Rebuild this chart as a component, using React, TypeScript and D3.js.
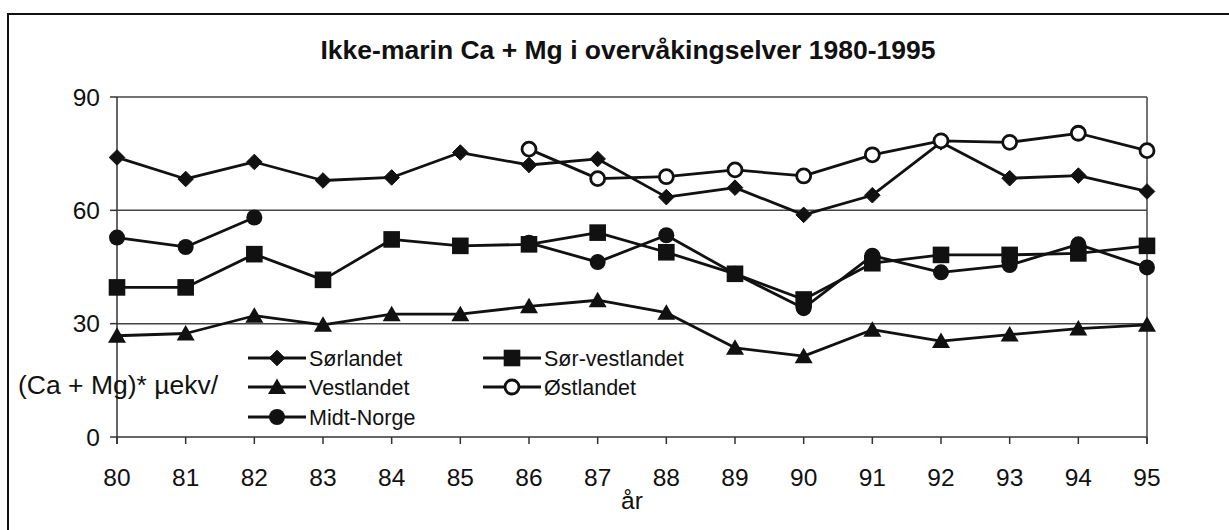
import React from "react";
import * as d3 from "d3";

const years = [80, 81, 82, 83, 84, 85, 86, 87, 88, 89, 90, 91, 92, 93, 94, 95];
const yTicks = [0, 30, 60, 90];

const sorlandet = [74, 68.3, 72.8, 67.9, 68.7, 75.3, 72, 73.6, 63.5, 66, 58.8, 64, 78, 68.5, 69.2, 65];
const sorVestlandet = [39.6, 39.6, 48.4, 41.6, 52.3, 50.6, 51, 54.1, 48.9, 43.2, 36.4, 46, 48.2, 48.2, 48.6, 50.6];
const vestlandet = [26.8, 27.4, 32.1, 29.7, 32.5, 32.5, 34.6, 36.2, 32.9, 23.6, 21.4, 28.4, 25.4, 27.1, 28.7, 29.7];
const ostlandet: (number | null)[] = [null, null, null, null, null, null, 76.2, 68.4, 68.9, 70.7, 69.1, 74.7, 78.4, 78, 80.4, 75.8];
const midtNorge: (number | null)[] = [52.8, 50.3, 58.1, null, null, null, 51.4, 46.3, 53.4, 43.2, 34.1, 48, 43.6, 45.5, 51, 44.9];

const seriesNames = ["Sørlandet", "Sør-vestlandet", "Vestlandet", "Østlandet", "Midt-Norge"];
const seriesMarkers = ["diamond", "square", "triangle", "openCircle", "circle"];
const seriesValues = [sorlandet, sorVestlandet, vestlandet, ostlandet, midtNorge];

const FONT = "'Liberation Sans', Arial, Helvetica, sans-serif";

function Marker({ kind, x, y }: { kind: string; x: number; y: number }) {
  if (kind === "diamond") {
    const r = 7.8;
    return <path d={`M${x},${y - r}L${x + r},${y}L${x},${y + r}L${x - r},${y}Z`} fill="#111" stroke="#111" strokeWidth={1} />;
  }
  if (kind === "square") {
    const s = 8.3;
    return <rect x={x - s} y={y - s} width={2 * s} height={2 * s} fill="#111" />;
  }
  if (kind === "triangle") {
    const w = 9;
    return <path d={`M${x},${y - 8.5}L${x + w},${y + 7}L${x - w},${y + 7}Z`} fill="#111" />;
  }
  if (kind === "openCircle") {
    return <circle cx={x} cy={y} r={7} fill="#fff" stroke="#111" strokeWidth={2.8} />;
  }
  return <circle cx={x} cy={y} r={8} fill="#111" />;
}

export default function App() {
  const W = 1229, H = 530;
  const x = d3.scaleLinear().domain([80, 95]).range([117, 1147]);
  const y = d3.scaleLinear().domain([0, 90]).range([437, 97]);

  const line = d3
    .line<number | null>()
    .defined((d) => d != null)
    .x((_, i) => x(years[i]))
    .y((d) => y(d as number));

  const legendItems = [
    { name: seriesNames[0], marker: seriesMarkers[0], lx: 248, ly: 358 },
    { name: seriesNames[1], marker: seriesMarkers[1], lx: 483, ly: 358 },
    { name: seriesNames[2], marker: seriesMarkers[2], lx: 248, ly: 387 },
    { name: seriesNames[3], marker: seriesMarkers[3], lx: 483, ly: 387 },
    { name: seriesNames[4], marker: seriesMarkers[4], lx: 248, ly: 417 },
  ];

  return (
    <svg width={W} height={H} style={{ position: "absolute", left: 0, top: 0, background: "#fff" }} fontFamily={FONT}>
      <rect x={0} y={0} width={W} height={H} fill="#fff" />
      {/* outer frame */}
      <path d={`M8,${H + 2}L8,14L${W + 2},14`} fill="none" stroke="#111" strokeWidth={2} />

      {/* title */}
      <text x={628} y={59} textAnchor="middle" fontSize={26.5} fontWeight="bold" fill="#111">
        Ikke-marin Ca + Mg i overvåkingselver 1980-1995
      </text>

      {/* gridlines */}
      {yTicks.filter((t) => t > 0).map((t) => (
        <line key={t} x1={x(80)} x2={x(95)} y1={y(t)} y2={y(t)} stroke="#444" strokeWidth={1.5} />
      ))}
      {/* plot border right */}
      <line x1={x(95)} x2={x(95)} y1={y(90)} y2={y(0) + 7} stroke="#444" strokeWidth={1.5} />
      {/* y axis */}
      <line x1={x(80)} x2={x(80)} y1={y(90)} y2={y(0) + 7} stroke="#333" strokeWidth={1.5} />
      {/* x axis */}
      <line x1={x(80)} x2={x(95)} y1={y(0)} y2={y(0)} stroke="#333" strokeWidth={1.5} />
      {/* y ticks */}
      {yTicks.map((t) => (
        <g key={t}>
          <line x1={x(80) - 7} x2={x(80)} y1={y(t)} y2={y(t)} stroke="#333" strokeWidth={1.5} />
          <text x={100} y={y(t)} dy="0.35em" textAnchor="end" fontSize={24.5} fill="#111">
            {t}
          </text>
        </g>
      ))}
      {/* x ticks */}
      {years.map((yr) => (
        <g key={yr}>
          <line x1={x(yr)} x2={x(yr)} y1={y(0)} y2={y(0) + 7} stroke="#333" strokeWidth={1.5} />
          <text x={x(yr)} y={486} textAnchor="middle" fontSize={24.5} fill="#111">
            {String(yr)}
          </text>
        </g>
      ))}
      <text x={632} y={509} textAnchor="middle" fontSize={24.5} fill="#111">
        år
      </text>
      <text x={18} y={385} dy="0.35em" fontSize={26.5} fill="#111">
        (Ca + Mg)* µekv/
      </text>

      {/* series */}
      {seriesValues.map((vals, si) => (
        <g key={si}>
          <path d={line(vals) || ""} fill="none" stroke="#111" strokeWidth={2.8} strokeLinejoin="round" />
          {vals.map((v, i) =>
            v == null ? null : <Marker key={i} kind={seriesMarkers[si]} x={x(years[i])} y={y(v)} />
          )}
        </g>
      ))}

      {/* legend */}
      {legendItems.map((it) => (
        <g key={it.name}>
          <line x1={it.lx} x2={it.lx + 58} y1={it.ly} y2={it.ly} stroke="#111" strokeWidth={2.8} />
          <Marker kind={it.marker} x={it.lx + 29} y={it.ly} />
          <text x={it.lx + 61} y={it.ly} dy="0.36em" fontSize={21.5} fill="#111">
            {it.name}
          </text>
        </g>
      ))}
    </svg>
  );
}
